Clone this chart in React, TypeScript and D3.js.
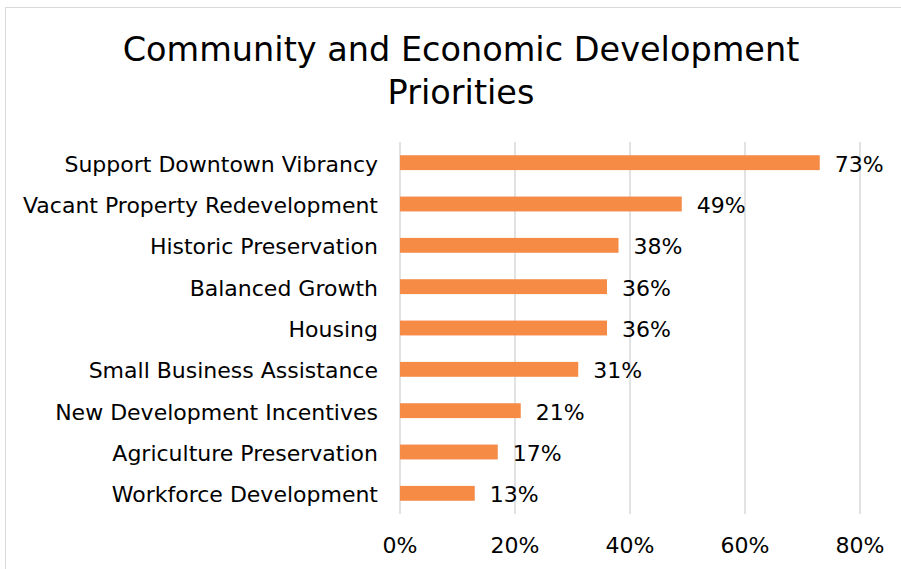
import React from "react";
import * as d3 from "d3";

const categories = [
  "Support Downtown Vibrancy",
  "Vacant Property Redevelopment",
  "Historic Preservation",
  "Balanced Growth",
  "Housing",
  "Small Business Assistance",
  "New Development Incentives",
  "Agriculture Preservation",
  "Workforce Development",
];
const values = [73, 49, 38, 36, 36, 31, 21, 17, 13];
const xTicks = [0, 20, 40, 60, 80];
const titleLines = ["Community and Economic Development", "Priorities"];

const W = 901;
const H = 569;
const FONT = "'DejaVu Sans', sans-serif";

export default function App() {
  const x = d3.scaleLinear().domain([0, 80]).range([400, 860]);
  const y = d3.scaleBand<string>().domain(categories).range([142, 514]).paddingInner(0.64).paddingOuter(0.32);
  return (
    <svg width={W} height={H} style={{ position: "absolute", left: 0, top: 0, fontVariantLigatures: "none" }} fontFamily={FONT}>
      <rect x={0} y={0} width={W} height={H} fill="#fff" />
      <rect x={5.5} y={7.5} width={W + 10} height={H + 10} fill="none" stroke="#d9d9d9" strokeWidth={1} />
      {titleLines.map((t, i) => (
        <text key={i} x={461} y={61 + i * 43} textAnchor="middle" fontSize={33.5} fill="#000">
          {t}
        </text>
      ))}
      {xTicks.map((t) => (
        <g key={t}>
          <line x1={x(t)} x2={x(t)} y1={142} y2={514} stroke="#d9d9d9" strokeWidth={1.5} />
          <text x={x(t)} y={553} textAnchor="middle" fontSize={22} fill="#000">
            {t}%
          </text>
        </g>
      ))}
      {categories.map((c, i) => {
        const yy = y(c)!;
        const cy = yy + y.bandwidth() / 2;
        return (
          <g key={c}>
            <rect x={x(0)} y={yy} width={x(values[i]) - x(0)} height={y.bandwidth()} fill="#F58B45" />
            <text x={378} y={cy + 9} textAnchor="end" fontSize={22} fill="#000">
              {c}
            </text>
            <text x={x(values[i]) + 15} y={cy + 9} textAnchor="start" fontSize={22} fill="#000">
              {values[i]}%
            </text>
          </g>
        );
      })}
    </svg>
  );
}
